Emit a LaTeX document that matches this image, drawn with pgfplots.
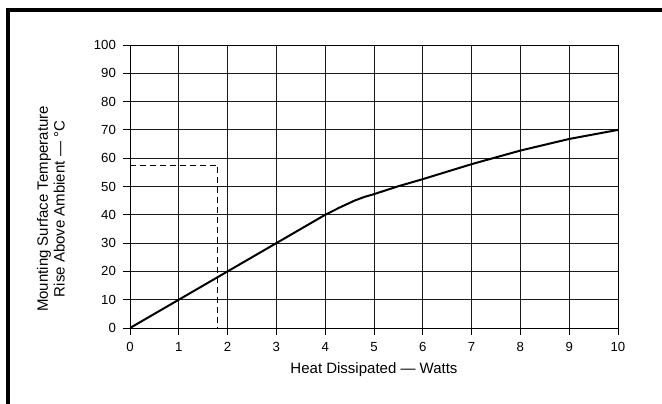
\documentclass[border=0pt]{standalone}
\usepackage{fontspec}
\setmainfont{Liberation Sans}
\usepackage{pgfplots}
\pgfplotsset{compat=1.18}
\begin{document}
\begin{tikzpicture}
\useasboundingbox (0,0) rectangle (496.5pt,303pt);
\begin{axis}[
  at={(97.5pt,57pt)}, anchor=south west,
  scale only axis,
  width=366pt, height=212.25pt,
  xmin=0, xmax=10, ymin=0, ymax=100,
  xtick={0,1,...,10}, ytick={0,10,...,100},
  xtick pos=bottom, ytick pos=left,
  tick align=outside,
  major tick length=5.25pt,
  every tick/.style={black, line width=0.6pt},
  grid=major,
  major grid style={black!90, line width=0.6pt},
  axis line style={black, line width=0.6pt},
  /pgf/number format/assume math mode=true,
  ticklabel style={font=\fontsize{9.9}{11}\selectfont},
  xticklabel style={yshift=-2.3pt},
  yticklabel style={xshift=-1.8pt},
  label style={font=\fontsize{11.25}{12.5}\selectfont},
  xlabel={Heat Dissipated — Watts},
  ylabel={Mounting Surface Temperature\\Rise Above Ambient — °C},
  xlabel style={at={(axis description cs:0.5,-0.1625)}, anchor=base},
  ylabel style={at={(axis description cs:-0.162,0.4205)}, anchor=center, align=center},
]
\addplot[black, line width=1.5pt] coordinates {
  (0,0) (1,10) (2,20) (3,30) (4,40) (4.3,42.6) (4.6,45.0) (4.8,46.3) (5,47.3) (5.5,50.1)
  (6,52.6) (7,57.9) (8,62.7) (9,66.8) (10,70)
};
\addplot[black, line width=0.75pt, dash pattern=on 4.5pt off 3pt] coordinates {
  (0,57.5) (1.8,57.5) (1.8,0)
};
\end{axis}
\draw[line width=2.3pt] (6pt,-30pt) rectangle (530pt,295.5pt);
\end{tikzpicture}
\end{document}
